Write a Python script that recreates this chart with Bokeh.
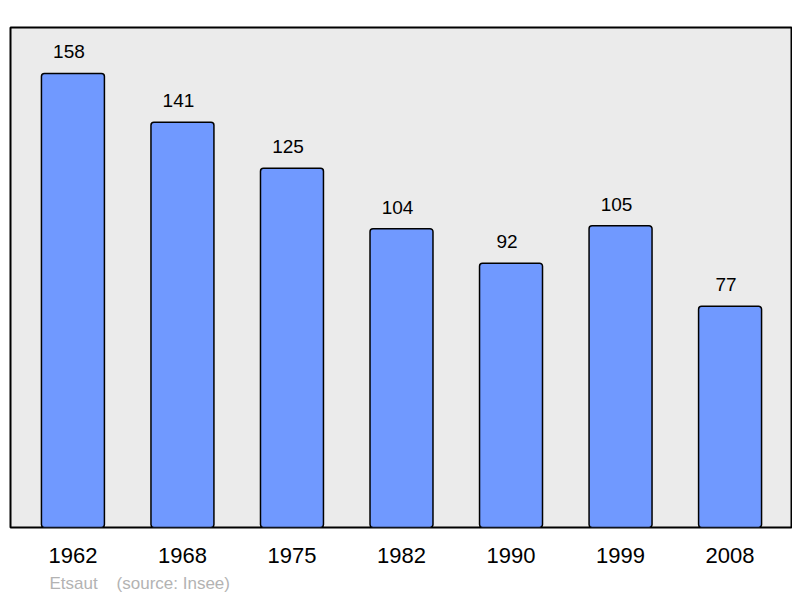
from bokeh.plotting import figure
from bokeh.models import ColumnDataSource, FactorRange, Range1d, Title, LabelSet
from bokeh.embed import file_html
from bokeh.resources import INLINE
from bokeh.core.properties import value

years = ["1962", "1968", "1975", "1982", "1990", "1999", "2008"]
population = [158, 141, 125, 104, 92, 105, 77]
labels = [str(v) for v in population]
source_note = "Etsaut\u00a0\u00a0\u00a0\u00a0(source: Insee)"

src = ColumnDataSource(dict(year=years, pop=population, lab=labels))

p = figure(
    width=792, height=598,
    x_range=FactorRange(factors=years, range_padding=0.07, range_padding_units="absolute"),
    y_range=Range1d(0, 174),
    output_backend="svg", toolbar_location=None,
    min_border_left=10, min_border_right=0, min_border_top=27, min_border_bottom=0,
)
p.background_fill_color = "#ebebeb"
p.border_fill_color = "white"
p.outline_line_color = "black"
p.outline_line_width = 2
p.grid.visible = False
p.yaxis.visible = False

p.vbar(x="year", top="pop", width=0.575, source=src,
       fill_color="#7099ff", line_color="black", line_width=1.5, border_radius=3)

lbl = LabelSet(x="year", y="pop", text="lab", source=src,
               text_align="center", text_baseline="alphabetic",
               x_offset=-4, y_offset=15,
               text_font=value("Liberation Sans"), text_font_size="19px", text_color="black")
p.add_layout(lbl)

ax = p.xaxis[0]
ax.axis_line_color = None
ax.major_tick_line_color = None
ax.minor_tick_line_color = None
ax.major_label_standoff = 14
ax.major_label_text_font = "Liberation Sans"
ax.major_label_text_font_size = "22px"
ax.major_label_text_color = "black"

t = Title(text=source_note, align="left", offset=39,
          text_font="Liberation Sans", text_font_size="17px",
          text_font_style="normal", text_color="#b3b3b3", standoff=12)
p.add_layout(t, "below")

open("out.html", "w").write(file_html(p, INLINE))
